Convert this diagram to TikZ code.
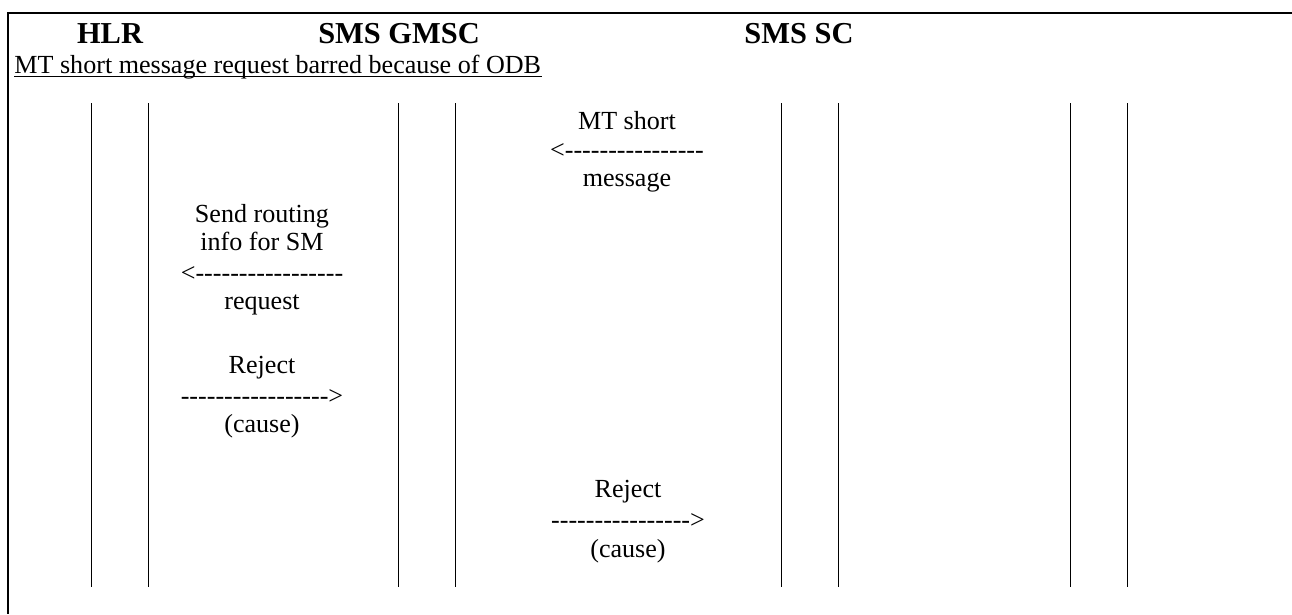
\documentclass[tikz,border=0pt]{standalone}
\usepackage{fontspec}
\setmainfont{Liberation Serif}
\usetikzlibrary{positioning}

\newcommand{\dashes}[1]{\foreach \i in {1,...,#1}{-\kern0pt}}

\begin{document}
\begin{tikzpicture}
	  [x=0.46pt,y=-0.46pt,
   head/.style={inner sep=0pt,anchor=base,font=\fontsize{14}{16}\selectfont\bfseries},
   msg/.style={inner sep=0pt,anchor=base,font=\fontsize{12}{14}\selectfont},
   life/.style={line width=0.46pt},
   frame/.style={line width=0.92pt}
  ]
  \useasboundingbox (0,0) rectangle (1292,614);

  % frame
  \draw[frame] (1292,13) -- (8,13) -- (8,614);

  % entities
  \node[head] (hlr) at (110,43) {HLR};
  \node[head] (gmsc) at (399,43) {SMS GMSC};
  \node[head] (sc) at (799,43) {SMS SC};
  \node[msg,anchor=base west] (title) at (14,73) {MT short message request barred because of ODB};
  \draw[life] ([yshift=-1.8pt]title.base west) -- ([yshift=-1.8pt]title.base east);

  % lifelines
  \foreach \x in {91,148,398,455,781,838,1070,1127}
     \draw[life] (\x,103) -- (\x,587);

  % MT short message
  \node[msg] (mt1) at (627,129) {MT short};
  \node[msg] (mt2) at (627,158) {<\dashes{16}};
  \node[msg] (mt3) at (627,186) {message};

  % send routing info
  \node[msg] (sri1) at (262,222) {Send routing};
  \node[msg] (sri2) at (262,250) {info for SM};
  \node[msg] (sri3) at (262,281) {<\dashes{17}};
  \node[msg] (sri4) at (262,309) {request};

  % reject to GMSC
  \node[msg] (rej1) at (262,373) {Reject};
  \node[msg] (rej2) at (262,404) {\dashes{17}>};
  \node[msg] (rej3) at (262,432) {(cause)};

  % reject to SC
  \node[msg] (rjs1) at (628,497) {Reject};
  \node[msg] (rjs2) at (628,528) {\dashes{16}>};
  \node[msg] (rjs3) at (628,557) {(cause)};

\end{tikzpicture}
\end{document}
